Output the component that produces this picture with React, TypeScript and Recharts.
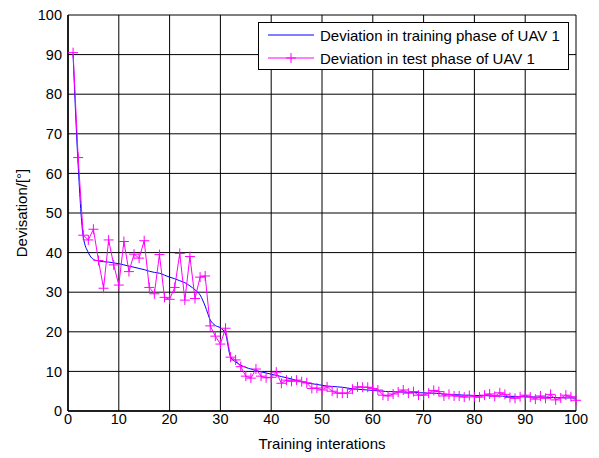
import React from 'react';
import { LineChart, Line, XAxis, YAxis, CartesianGrid, Legend } from 'recharts';

const iterations = Array.from({ length: 100 }, (_, i) => i + 1);

const trainingDeviation = [
  90, 62, 44, 40, 38.3, 37.9, 37.7, 37.6, 37.4, 37.2,
  36.9, 36.6, 36.3, 36, 35.7, 35.3, 35, 34.8, 34.3, 33.8,
  33.4, 32.9, 32.4, 31.6, 30.6, 29.3, 26.5, 23, 21.6, 21,
  19.5, 13.6, 12.4, 11.6, 11, 10.6, 10.2, 9.9, 9.6, 9.3,
  9, 8.7, 8.4, 8.1, 7.7, 7.4, 7.1, 6.9, 6.7, 6.5,
  6.3, 6.2, 6.1, 6, 5.8, 5.6, 5.5, 5.4, 5.3, 5.2,
  5.1, 5, 4.9, 4.9, 4.8, 4.8, 4.7, 4.7, 4.6, 4.6,
  4.5, 4.5, 4.4, 4.3, 4.2, 4.1, 4.1, 4, 4, 3.9,
  3.9, 3.9, 3.8, 3.8, 3.8, 3.7, 3.7, 3.7, 3.6, 3.6,
  3.6, 3.5, 3.5, 3.5, 3.4, 3.4, 3.4, 3.3, 3.3, 3.3,
];

const testDeviation = [
  90.5, 64, 44.4, 43.2, 45.9, 38, 31, 43.2, 36.9, 31.8,
  42.8, 35.2, 39.6, 38.6, 43, 31.2, 29.6, 39.5, 28.7, 28.2,
  31.2, 39.8, 28, 39, 28.4, 33.8, 34.1, 21.5, 18.9, 16.9,
  20.9, 13.6, 12.9, 11.2, 8.8, 8.3, 10.6, 8.8, 8.4, 8.5,
  9.8, 7, 7.8, 7.5, 7.8, 7.4, 7.1, 5.7, 5.8, 5.3,
  6.1, 5, 4.5, 4.5, 4.5, 5.5, 6.1, 6, 6, 5.7,
  5.3, 4, 3.8, 4.3, 4.8, 5.3, 4.5, 4.9, 4, 4,
  4.5, 5.2, 4.9, 3.8, 4.2, 3.8, 3.8, 3.5, 3.9, 3.6,
  3.5, 4, 4.3, 3.7, 4.6, 4.2, 3.4, 3.2, 3.6, 4,
  3.5, 3, 3.8, 3.2, 4.2, 2.8, 3.3, 4, 3.6, 2.7,
];

const axisTicks = [0, 10, 20, 30, 40, 50, 60, 70, 80, 90, 100];

const seriesNames = ['Deviation in training phase of UAV 1', 'Deviation in test phase of UAV 1'];

const data = iterations.map((it, i) => ({
  it,
  training: trainingDeviation[i],
  test: testDeviation[i],
}));

const font = '"Liberation Sans", Arial, sans-serif';

const PlusDot = (props: any) => {
  const { cx, cy, index } = props;
  if (cx == null || cy == null) return <g key={`p${index}`} />;
  return (
    <path
      key={`p${index}`}
      d={`M${cx - 5},${cy}H${cx + 5}M${cx},${cy - 5}V${cy + 5}`}
      stroke="#FF00FF"
      strokeWidth={1}
      fill="none"
    />
  );
};

const LegendBox = () => (
  <div
    style={{
      width: 311,
      height: 48,
      border: '1px solid #000',
      background: '#fff',
      fontFamily: font,
      fontSize: 15,
      color: '#000',
      boxSizing: 'border-box',
      position: 'relative',
    }}
  >
    {seriesNames.map((name, i) => (
      <div
        key={name}
        style={{ position: 'absolute', left: 9, top: 3 + i * 23, height: 18, display: 'flex', alignItems: 'center' }}
      >
        <svg width={46} height={18} style={{ display: 'block' }}>
          <line x1={0} y1={9} x2={46} y2={9} stroke={i === 0 ? '#0000FF' : '#FF00FF'} strokeWidth={1} />
          {i === 1 && <path d="M18,9H28M23,4V14" stroke="#FF00FF" strokeWidth={1} />}
        </svg>
        <span style={{ marginLeft: 6, whiteSpace: 'nowrap' }}>{name}</span>
      </div>
    ))}
  </div>
);

export default function App() {
  return (
    <div style={{ position: 'absolute', left: 0, top: 0, width: 599, height: 458, background: '#fff' }}>
      <LineChart width={599} height={458} data={data} margin={{ top: 15, right: 23, bottom: 0, left: 0 }}>
        <CartesianGrid stroke="#000" strokeWidth={1} horizontalValues={axisTicks} verticalValues={axisTicks} />
        <XAxis
          dataKey="it"
          type="number"
          domain={[0, 100]}
          ticks={axisTicks}
          height={47}
          tickLine={false}
          tickSize={0}
          tickMargin={3}
          axisLine={{ stroke: '#000', strokeWidth: 1.5 }}
          tick={{ fill: '#000', fontSize: 14.5, fontFamily: font }}
          label={{ value: 'Training interations', position: 'insideBottom', offset: 9, fill: '#000', fontSize: 15, fontFamily: font }}
        />
        <YAxis
          type="number"
          domain={[0, 100]}
          ticks={axisTicks}
          width={68}
          tickLine={false}
          tickSize={0}
          tickMargin={6}
          axisLine={{ stroke: '#000', strokeWidth: 1.5 }}
          tick={{ fill: '#000', fontSize: 14.5, fontFamily: font }}
          label={{ value: 'Devisation/[°]', angle: -90, position: 'center', dx: -12, fill: '#000', fontSize: 15, fontFamily: font }}
        />
        <Legend
          layout="horizontal"
          align="center"
          verticalAlign="middle"
          wrapperStyle={{ top: 22, left: 258, width: 311 }}
          content={() => <LegendBox />}
        />
        <Line
          name={seriesNames[0]}
          dataKey="training"
          type="monotone"
          stroke="#0000FF"
          strokeWidth={1}
          dot={false}
          isAnimationActive={false}
        />
        <Line
          name={seriesNames[1]}
          dataKey="test"
          type="linear"
          stroke="#FF00FF"
          strokeWidth={1}
          dot={PlusDot}
          isAnimationActive={false}
        />
      </LineChart>
    </div>
  );
}
